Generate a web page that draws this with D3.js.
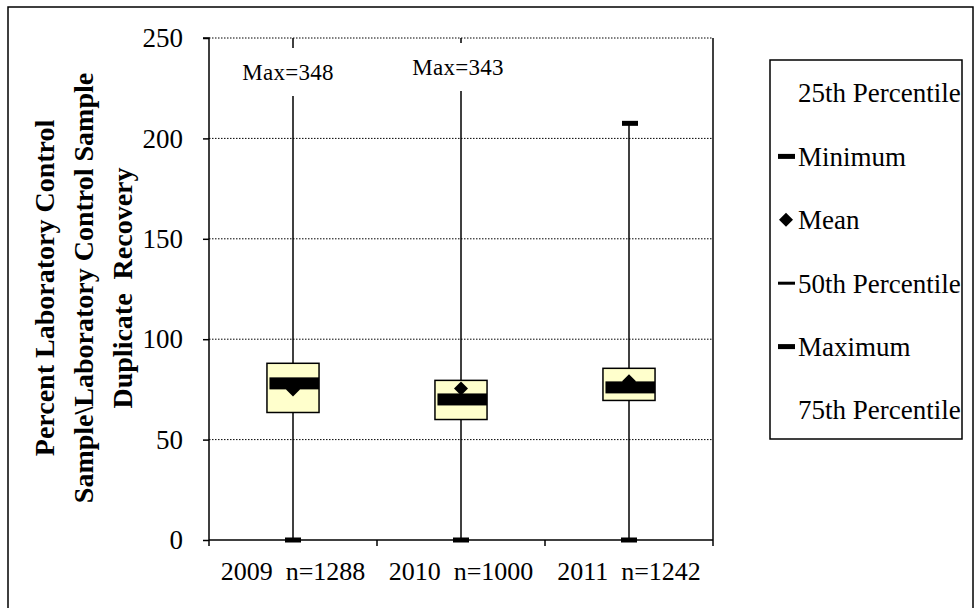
<!DOCTYPE html>
<html><head><meta charset="utf-8">
<script src="https://cdn.jsdelivr.net/npm/d3@7"></script>
<style>body{margin:0;background:#fff}svg{display:block}text{font-family:"Liberation Serif","Times New Roman",serif;fill:#000}</style>
</head><body>
<svg id="c" width="976" height="608"></svg>
<script>
const categories = ["2009  n=1288", "2010  n=1000", "2011  n=1242"];
const minVals = [0, 0, 0];
const p25Vals = [63.5, 60, 69.5];
const medianVals = [78, 70, 76];
const meanVals = [75, 75.5, 79];
const p75Vals = [88, 79.5, 85.5];
const maxVals = [348, 343, 207.5];
const yTicks = [0, 50, 100, 150, 200, 250];
const legendItems = ["25th Percentile", "Minimum", "Mean", "50th Percentile", "Maximum", "75th Percentile"];
const legendMarkers = ["none", "thick", "diamond", "thin", "thick", "none"];
const yTitle = ["Percent Laboratory Control", "Sample\\Laboratory Control Sample", "Duplicate  Recovery"];

const svg = d3.select("#c");
const L = 209, R = 713, T = 38, B = 540;
const x = d3.scaleBand().domain(categories).range([L, R]).padding(0);
const y = d3.scaleLinear().domain([0, 250]).range([B, T]);

// outer border
svg.append("rect").attr("x", 8).attr("y", 7).attr("width", 965).attr("height", 606)
  .attr("fill", "none").attr("stroke", "#000").attr("stroke-width", 1.5);

// gridlines
svg.append("g").selectAll("line").data(yTicks.filter(d => d > 0)).join("line")
  .attr("x1", L).attr("x2", R).attr("y1", d => y(d)).attr("y2", d => y(d))
  .attr("stroke", "#000").attr("stroke-width", 1).attr("stroke-dasharray", "1.5,1.5");
// right border
svg.append("line").attr("x1", R).attr("x2", R).attr("y1", T).attr("y2", B)
  .attr("stroke", "#000").attr("stroke-width", 1.5);

svg.append("clipPath").attr("id", "pc").append("rect")
  .attr("x", L).attr("y", T).attr("width", R - L).attr("height", B - T + 4);

const g = svg.append("g").attr("clip-path", "url(#pc)");
const cx = d => x(d) + x.bandwidth() / 2;
const bw = x.bandwidth() * 0.31;

categories.forEach((c, i) => {
  const xc = cx(c);
  g.append("line").attr("x1", xc).attr("x2", xc)
    .attr("y1", y(Math.min(maxVals[i], 260))).attr("y2", y(minVals[i]))
    .attr("stroke", "#000").attr("stroke-width", 1.5);
  g.append("rect").attr("x", xc - bw / 2).attr("y", y(p75Vals[i]))
    .attr("width", bw).attr("height", y(p25Vals[i]) - y(p75Vals[i]))
    .attr("fill", "#FFFFCC").attr("stroke", "#000").attr("stroke-width", 1.5);
  g.append("rect").attr("x", xc - bw / 2 + 2.5).attr("y", y(medianVals[i]) - 6)
    .attr("width", bw - 2.5).attr("height", 12).attr("fill", "#000");
  const my = y(meanVals[i]);
  g.append("path").attr("d", `M${xc},${my - 7}L${xc + 7},${my}L${xc},${my + 7}L${xc - 7},${my}Z`).attr("fill", "#000");
  g.append("rect").attr("x", xc - 8).attr("y", y(minVals[i]) - 2.5).attr("width", 16).attr("height", 5).attr("fill", "#000");
  if (maxVals[i] <= 250) {
    g.append("rect").attr("x", xc - 7).attr("y", y(maxVals[i]) - 2.5).attr("width", 16).attr("height", 5).attr("fill", "#000");
  }
});

categories.forEach((c, i) => {
  if (maxVals[i] > 250) {
    const xc = cx(c) - (i === 0 ? 5 : 3);
    const ty = i === 0 ? 72 : 67;
    svg.append("rect").attr("x", xc - 48).attr("y", ty - 24).attr("width", 96).attr("height", 48).attr("fill", "#fff");
    svg.append("text").attr("x", xc).attr("y", ty).attr("dy", "0.35em")
      .attr("text-anchor", "middle").attr("font-size", 23).attr("letter-spacing", 0.3)
      .text("Max=" + maxVals[i]);
  }
});

const yAxis = svg.append("g").attr("transform", `translate(${L},0)`)
  .call(d3.axisLeft(y).tickValues(yTicks).tickSize(6).tickPadding(20));
yAxis.select(".domain").attr("stroke-width", 1.5).attr("d", `M-6,${T}H0V${B}`);
yAxis.selectAll(".tick line").attr("stroke-width", 1.5);
yAxis.selectAll("text").attr("font-size", 27).attr("font-family", "Liberation Serif");

const xAxis = svg.append("g").attr("transform", `translate(0,${B})`)
  .call(d3.axisBottom(x).tickSize(0).tickPadding(22));
xAxis.select(".domain").attr("stroke-width", 1.5).attr("d", `M${L},0H${R}`);
xAxis.selectAll("text").attr("font-size", 26).attr("font-family", "Liberation Serif").style("white-space", "pre");
const bounds = categories.map(c => x(c)).concat([R]);
svg.append("g").selectAll("line").data(bounds).join("line")
  .attr("x1", d => d).attr("x2", d => d).attr("y1", B).attr("y2", B + 6)
  .attr("stroke", "#000").attr("stroke-width", 1.5);

const yt = svg.append("text").attr("transform", "translate(83,288) rotate(-90)")
  .attr("text-anchor", "middle").attr("font-size", 28).attr("font-weight", "bold")
  .style("white-space", "pre");
yTitle.forEach((t, i) => {
  yt.append("tspan").attr("x", 0).attr("y", (i - 1) * 39).attr("dy", "0.35em").text(t);
});

svg.append("rect").attr("x", 770).attr("y", 60).attr("width", 192).attr("height", 379)
  .attr("fill", "#fff").attr("stroke", "#000").attr("stroke-width", 1.5);
const ly = d3.scalePoint().domain(legendItems).range([93, 410]);
legendItems.forEach((t, i) => {
  const yy = ly(t);
  const m = legendMarkers[i];
  if (m === "thick") svg.append("rect").attr("x", 778).attr("y", yy - 2.5).attr("width", 17).attr("height", 5).attr("fill", "#000");
  if (m === "thin") svg.append("rect").attr("x", 778).attr("y", yy - 1.5).attr("width", 17).attr("height", 3).attr("fill", "#000");
  if (m === "diamond") svg.append("path").attr("d", `M786,${yy - 7}L793,${yy}L786,${yy + 7}L779,${yy}Z`).attr("fill", "#000");
  svg.append("text").attr("x", 798).attr("y", yy).attr("dy", "0.35em").attr("font-size", 27).text(t);
});
</script>
</body></html>
